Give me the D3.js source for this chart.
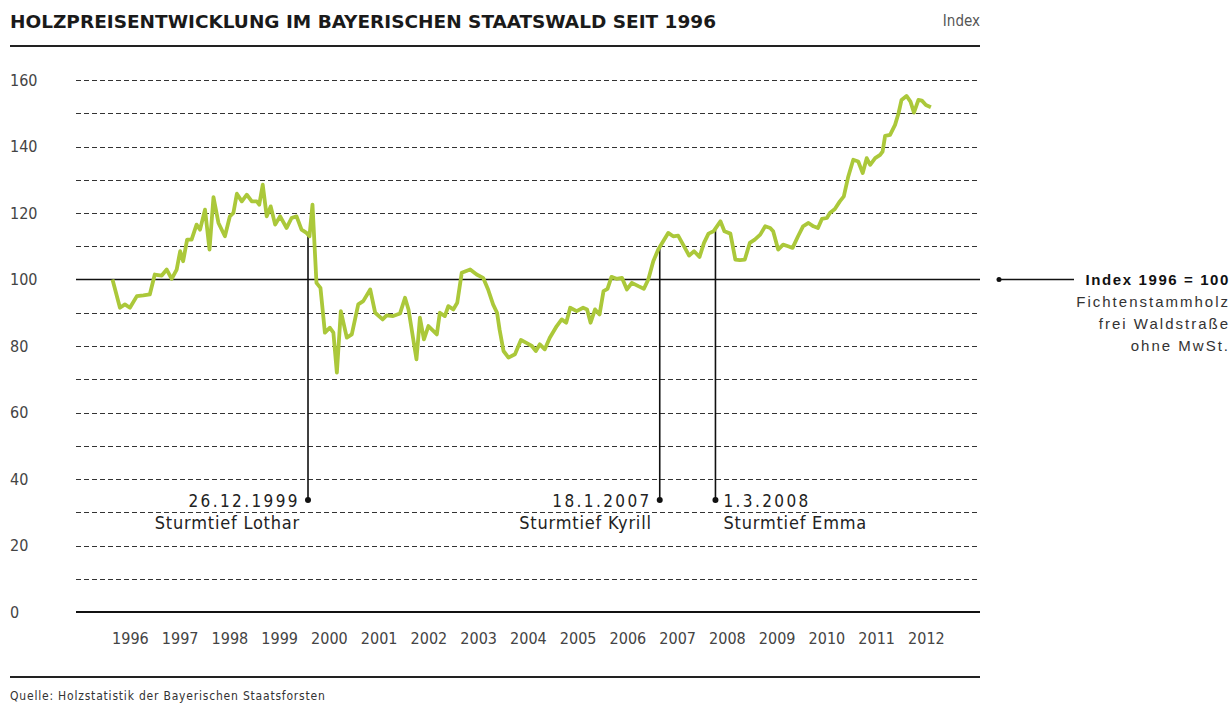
<!DOCTYPE html>
<html>
<head>
<meta charset="utf-8">
<script src="https://cdn.jsdelivr.net/npm/d3@7"></script>
<style>
  body { margin: 0; background: #fff; }
  svg text { font-family: "Liberation Sans Narrow", "DejaVu Sans Condensed", "Roboto Condensed", sans-serif; }
</style>
</head>
<body>
<svg class="chart"></svg>
<script>
// Holzpreisindex, Fichtenstammholz (1996 = 100)
var dates = [1996.05, 1996.20, 1996.30, 1996.40, 1996.54, 1996.67, 1996.80, 1996.90,
  1997.04, 1997.14, 1997.24, 1997.34, 1997.41, 1997.47, 1997.55, 1997.64, 1997.74, 1997.81, 1997.91,
  1998.00, 1998.08, 1998.18, 1998.31, 1998.41, 1998.48, 1998.55, 1998.65, 1998.75, 1998.85, 1998.95,
  1999.00, 1999.07, 1999.15, 1999.23, 1999.32, 1999.42, 1999.55, 1999.65, 1999.75, 1999.85, 1999.95,
  2000.01, 2000.07, 2000.15, 2000.23, 2000.32, 2000.42, 2000.49, 2000.56, 2000.64, 2000.76, 2000.86, 2000.99,
  2001.09, 2001.23, 2001.33, 2001.48, 2001.56, 2001.69, 2001.83, 2001.93,
  2002.00, 2002.16, 2002.23, 2002.31, 2002.40, 2002.57, 2002.63, 2002.73, 2002.80, 2002.90, 2002.98,
  2003.07, 2003.24, 2003.37, 2003.50, 2003.60, 2003.70, 2003.78, 2003.83, 2003.91,
  2004.01, 2004.14, 2004.26, 2004.36, 2004.48, 2004.56, 2004.64, 2004.74, 2004.84, 2004.98,
  2005.08, 2005.17, 2005.25, 2005.38, 2005.51, 2005.59, 2005.66, 2005.75, 2005.84, 2005.92,
  2006.00, 2006.08, 2006.18, 2006.29, 2006.39, 2006.49, 2006.62, 2006.73, 2006.82, 2006.92,
  2007.02, 2007.12, 2007.22, 2007.32, 2007.42, 2007.52, 2007.64, 2007.74, 2007.85, 2007.94,
  2008.03, 2008.13, 2008.20, 2008.27, 2008.35, 2008.47, 2008.57, 2008.66, 2008.76, 2008.86, 2008.96,
  2009.07, 2009.17, 2009.27, 2009.33, 2009.43, 2009.53, 2009.63, 2009.72, 2009.83, 2009.93,
  2010.04, 2010.14, 2010.23, 2010.31, 2010.41, 2010.47, 2010.57, 2010.67, 2010.75, 2010.84, 2010.94,
  2011.04, 2011.13, 2011.21, 2011.28, 2011.38, 2011.48, 2011.53, 2011.58, 2011.68, 2011.78, 2011.85, 2011.91,
  2012.01, 2012.09, 2012.16, 2012.25, 2012.32, 2012.40, 2012.50];
var index = [100, 91.5, 92.5, 91.5, 95, 95.2, 95.5, 101.5,
  101.2, 103, 100.2, 103, 108.5, 105.5, 112, 112, 116.5, 115, 121,
  109, 124.8, 117, 113, 119, 120, 125.8, 123.5, 125.5, 123.5, 123.5,
  122.5, 128.5, 119, 122, 116.5, 119, 115.5, 118.5, 119, 115, 114,
  113, 122.5, 99, 97.5, 84, 85.5, 84, 72, 90.5, 82.5, 83.5, 92.5,
  93.5, 97, 90, 88, 89.2, 89, 89.8, 94.5,
  91, 76, 88.5, 82, 86, 83.5, 90, 89, 92, 91, 93,
  102, 103, 101.5, 100.5, 97, 92.5, 90, 85, 78.5,
  76.5, 77.5, 81.8, 81, 80, 78.5, 80.5, 79, 82.5, 86,
  88, 87, 91.5, 90.5, 91.5, 91, 87, 91, 89.5, 96.5,
  97.2, 100.8, 100.2, 100.5, 97, 99, 98, 97.2, 100, 105.5,
  109, 111.5, 114, 113, 113.2, 110.5, 107.2, 108.5, 106.8, 111,
  113.8, 114.5, 116, 117.5, 114.5, 113.8, 106, 105.8, 106, 111, 112,
  113.5, 116, 115.5, 114.5, 109, 110.5, 110, 109.5, 113, 116,
  117, 116, 115.5, 118.2, 118.5, 120, 121.2, 123.5, 125, 131, 136,
  135.5, 132, 136.5, 134.5, 136.5, 137.5, 138.5, 143.2, 143.5, 146.5, 150, 154,
  155.2, 153.5, 150.2, 154, 153.8, 152.5, 151.8];

var years = d3.range(1996, 2013);
var yTicks = d3.range(0, 161, 20);
var gridLines = d3.range(10, 161, 10);

var storms = [
  {date: 1999.98, label: "26.12.1999", name: "Sturmtief Lothar", side: "left"},
  {date: 2007.05, label: "18.1.2007", name: "Sturmtief Kyrill", side: "left"},
  {date: 2008.17, label: "1.3.2008", name: "Sturmtief Emma", side: "right"}
];

var legendLines = ["Index 1996 = 100", "Fichtenstammholz", "frei Waldstraße", "ohne MwSt."];

var chartWidth = 1232, chartHeight = 704;
var left = 76, right = 980;

var svg = d3.select(".chart")
    .attr("width", chartWidth)
    .attr("height", chartHeight);

var x = d3.scaleLinear().domain([1996, 2013]).range([110, 110 + 17 * 49.75]);
var y = d3.scaleLinear().domain([0, 160]).range([612, 80]);

// title
svg.append("text")
    .attr("x", 10).attr("y", 28)
    .attr("font-size", 18).attr("font-weight", "bold")
    .attr("fill", "#1a1a1a")
    .attr("textLength", 706).attr("lengthAdjust", "spacingAndGlyphs")
    .text("HOLZPREISENTWICKLUNG IM BAYERISCHEN STAATSWALD SEIT 1996");

svg.append("text")
    .attr("x", 980).attr("y", 26)
    .attr("text-anchor", "end")
    .attr("font-size", 15).attr("fill", "#555")
    .text("Index");

svg.append("line")
    .attr("x1", 10).attr("x2", 980).attr("y1", 46).attr("y2", 46)
    .attr("stroke", "#222").attr("stroke-width", 2);

// dashed grid
svg.append("g").selectAll("line")
    .data(gridLines.filter(function (d) { return d != 100; }))
    .enter().append("line")
    .attr("x1", left).attr("x2", right)
    .attr("y1", function (d) { return Math.round(y(d)) + 0.5; })
    .attr("y2", function (d) { return Math.round(y(d)) + 0.5; })
    .attr("stroke", "#333").attr("stroke-width", 1)
    .attr("stroke-dasharray", "5,3");

// y axis labels
var yAxis = svg.append("g")
    .attr("transform", "translate(10,0)")
    .call(d3.axisLeft(y).tickValues(yTicks).tickSize(0).tickPadding(0));
yAxis.select(".domain").remove();
yAxis.selectAll("text")
    .attr("text-anchor", "start")
    .attr("font-size", 16).attr("fill", "#444")
    .style("font-family", "\"Liberation Sans Narrow\", \"DejaVu Sans Condensed\", sans-serif");

// reference line 100 and base line 0
svg.append("line")
    .attr("x1", left).attr("x2", right).attr("y1", y(100)).attr("y2", y(100))
    .attr("stroke", "#111").attr("stroke-width", 1.6);
svg.append("line")
    .attr("x1", left).attr("x2", right).attr("y1", y(0)).attr("y2", y(0))
    .attr("stroke", "#111").attr("stroke-width", 2);

// x axis year labels, centred within each year
var xAxis = svg.append("g")
    .attr("transform", "translate(0,638)")
    .call(d3.axisBottom(x)
        .tickValues(years.map(function (d) { return d + 0.4; }))
        .tickFormat(function (d) { return Math.floor(d); })
        .tickSize(0).tickPadding(0));
xAxis.select(".domain").remove();
xAxis.selectAll("text")
    .attr("dy", "0.35em")
    .attr("font-size", 16).attr("fill", "#444")
    .style("font-family", "\"Liberation Sans Narrow\", \"DejaVu Sans Condensed\", sans-serif");

// storm markers
var bisect = d3.bisector(function (d) { return d; }).left;
function valueAt(t) {
    var i = bisect(dates, t);
    var t0 = dates[i - 1], t1 = dates[i];
    return index[i - 1] + (index[i] - index[i - 1]) * (t - t0) / (t1 - t0);
}

var storm = svg.append("g").selectAll("g")
    .data(storms)
    .enter().append("g");

storm.append("line")
    .attr("x1", function (d) { return x(d.date); })
    .attr("x2", function (d) { return x(d.date); })
    .attr("y1", function (d) { return y(valueAt(d.date)); })
    .attr("y2", 500)
    .attr("stroke", "#111").attr("stroke-width", 1.6);

storm.append("circle")
    .attr("cx", function (d) { return x(d.date); })
    .attr("cy", 500).attr("r", 3)
    .attr("fill", "#111");

storm.append("text")
    .attr("x", function (d) { return d.side == "left" ? x(d.date) - 8 : x(d.date) + 8; })
    .attr("y", 507)
    .attr("text-anchor", function (d) { return d.side == "left" ? "end" : "start"; })
    .attr("font-size", 17).attr("fill", "#222").attr("letter-spacing", 2.4)
    .text(function (d) { return d.label; });

storm.append("text")
    .attr("x", function (d) { return d.side == "left" ? x(d.date) - 8 : x(d.date) + 8; })
    .attr("y", 529)
    .attr("text-anchor", function (d) { return d.side == "left" ? "end" : "start"; })
    .attr("font-size", 18).attr("fill", "#222").attr("letter-spacing", 0.8)
    .text(function (d) { return d.name; });

// price line
var line = d3.line()
    .x(function (d, i) { return x(dates[i]); })
    .y(function (d) { return y(d); })
    .curve(d3.curveLinear);

svg.append("path")
    .datum(index)
    .attr("d", line)
    .attr("fill", "none")
    .attr("stroke", "#abc83a")
    .attr("stroke-width", 3.8)
    .attr("stroke-linejoin", "round");

// right legend
svg.append("circle").attr("cx", 999).attr("cy", y(100)).attr("r", 2.5).attr("fill", "#111");
svg.append("line")
    .attr("x1", 999).attr("x2", 1074).attr("y1", y(100)).attr("y2", y(100))
    .attr("stroke", "#111").attr("stroke-width", 1.3);

svg.append("g").selectAll("text")
    .data(legendLines)
    .enter().append("text")
    .attr("x", 1230)
    .attr("y", function (d, i) { return 285 + i * 22; })
    .attr("text-anchor", "end")
    .attr("font-size", 15)
    .attr("letter-spacing", function (d, i) { return i == 0 ? 1.6 : 2; })
    .attr("font-weight", function (d, i) { return i == 0 ? "bold" : "normal"; })
    .attr("fill", function (d, i) { return i == 0 ? "#111" : "#333"; })
    .style("font-family", "\"Liberation Sans\", Arial, sans-serif")
    .text(function (d) { return d; });

// footer
svg.append("line")
    .attr("x1", 10).attr("x2", 980).attr("y1", 677).attr("y2", 677)
    .attr("stroke", "#222").attr("stroke-width", 2);

svg.append("text")
    .attr("x", 10).attr("y", 700)
    .attr("font-size", 12).attr("fill", "#333").attr("letter-spacing", 0.8)
    .text("Quelle: Holzstatistik der Bayerischen Staatsforsten");
</script>
</body>
</html>
